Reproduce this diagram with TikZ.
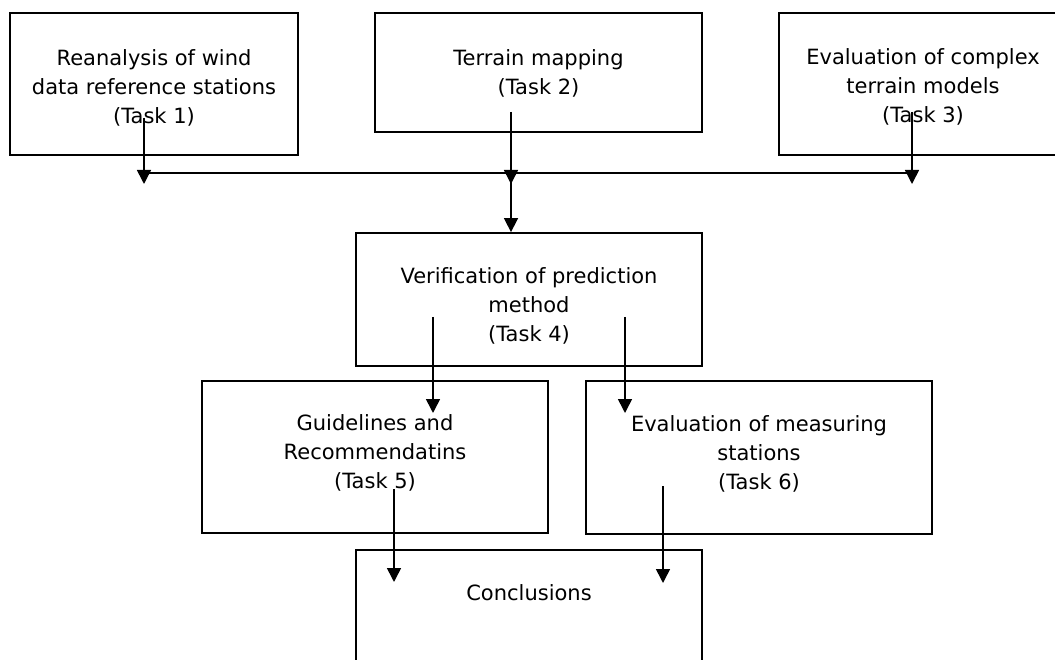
\documentclass[tikz,border=0pt]{standalone}
\usepackage{fontspec}
\setmainfont{DejaVu Sans}
\usetikzlibrary{arrows.meta}
\begin{document}
\begin{tikzpicture}[x=1pt,y=-1pt,
  box/.style={draw, line width=1.8pt, rectangle, inner sep=0pt},
  lbl/.style={anchor=north, align=center, inner sep=0pt, font=\fontsize{21}{29}\selectfont},
  flow/.style={line width=1.6pt, -{Triangle[width=14pt,length=14pt]}},
  link/.style={line width=1.6pt}]
\clip (0,0) rectangle (1055,660);
\fill[white] (0,0) rectangle (1055,660);
% boxes
\node[box, minimum width=288pt, minimum height=142pt] (b1) at (154,84) {};
\node[box, minimum width=327pt, minimum height=119pt] (b2) at (538.5,72.5) {};
\node[box, minimum width=288pt, minimum height=142pt] (b3) at (923,84) {};
\node[box, minimum width=346pt, minimum height=133pt] (b4) at (529,299.5) {};
\node[box, minimum width=346pt, minimum height=152pt] (b5) at (375,457) {};
\node[box, minimum width=346pt, minimum height=153pt] (b6) at (759,457.5) {};
\node[box, minimum width=346pt, minimum height=170pt] (b7) at (529,635) {};
% texts
\node[lbl] (t1) at (154,49) {Reanalysis of wind\\data reference stations\\(Task 1)};
\node[lbl] (t2) at (538.5,49) {Terrain mapping\\(Task 2)};
\node[lbl] (t3) at (923,48) {Evaluation of complex\\terrain models\\(Task 3)};
\node[lbl] (t4) at (529,267) {Verification of prediction\\method\\(Task 4)};
\node[lbl] (t5) at (375,414) {Guidelines and\\Recommendatins\\(Task 5)};
\node[lbl] (t6) at (759,415) {Evaluation of measuring\\stations\\(Task 6)};
\node[lbl] (t7) at (529,584) {Conclusions};
% connector points
\coordinate (s1) at (144,118);
\coordinate (e1) at (144,184);
\coordinate (s2) at (511,112);
\coordinate (e2) at (511,184);
\coordinate (j2) at (511,173);
\coordinate (s3) at (912,112);
\coordinate (e3) at (912,184);
\coordinate (busL) at (144,173);
\coordinate (busR) at (912,173);
\coordinate (s4) at (433,317);
\coordinate (e4) at (433,413);
\coordinate (s5) at (625,317);
\coordinate (e5) at (625,413);
\coordinate (s6) at (394,489);
\coordinate (e6) at (394,582);
\coordinate (s7) at (663,486);
\coordinate (e7) at (663,583);
% connectors
\draw[link] (busL) -- (busR);
\draw[flow] (s1) -- (e1);
\draw[flow] (s2) -- (e2);
\draw[flow] (s3) -- (e3);
\draw[flow] (j2) -- (j2 |- b4.north);
\draw[flow] (s4) -- (e4);
\draw[flow] (s5) -- (e5);
\draw[flow] (s6) -- (e6);
\draw[flow] (s7) -- (e7);
\end{tikzpicture}
\end{document}
